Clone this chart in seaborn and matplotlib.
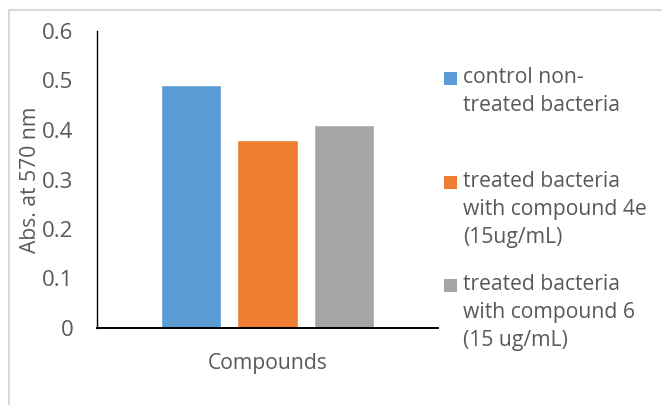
import matplotlib
matplotlib.use("Agg")
import matplotlib.pyplot as plt
from matplotlib.patches import Rectangle
from matplotlib.lines import Line2D
import seaborn as sns
import pandas as pd

# Data
series = [
    "control non-\ntreated bacteria",
    "treated bacteria\nwith compound 4e\n(15ug/mL)",
    "treated bacteria\nwith compound 6\n(15 ug/mL)",
]
absorbance = [0.49, 0.38, 0.41]
colors = ["#5B9BD5", "#ED7D31", "#A5A5A5"]
y_ticks = [0, 0.1, 0.2, 0.3, 0.4, 0.5, 0.6]
y_tick_labels = ["0", "0.1", "0.2", "0.3", "0.4", "0.5", "0.6"]

df = pd.DataFrame({"Compounds": [""] * len(series), "Series": series, "Abs": absorbance})

sns.set_theme(style="white")
plt.rcParams["font.family"] = ["Open Sans", "DejaVu Sans"]
text_color = "#595959"
fs = 15.2
fs_tick = 16

W, H = 662, 405
fig = plt.figure(figsize=(W / 100, H / 100), dpi=100)
ax = fig.add_axes([97 / W, (H - 328) / H, 341 / W, 297 / H])

sns.barplot(data=df, x="Compounds", y="Abs", hue="Series", hue_order=series,
            palette=colors, width=0.669, gap=0.21, legend=False, ax=ax,
            saturation=1)

ax.set_ylim(0, 0.6)
ax.set_xlim(-0.5, 0.5)
ax.set_yticks(y_ticks)
ax.set_yticklabels(y_tick_labels, color=text_color, fontsize=fs_tick)
ax.set_xticks([])
ax.tick_params(axis="y", length=0, pad=17)
ax.set_ylabel("Abs. at 570 nm", color=text_color, fontsize=fs, labelpad=0)
ax.yaxis.set_label_coords(-(97 - 41) / 341, 0.5)
ax.set_xlabel("Compounds", color=text_color, fontsize=fs, labelpad=18)

for side in ["top", "right"]:
    ax.spines[side].set_visible(False)
for side in ["left", "bottom"]:
    ax.spines[side].set_color("black")
    ax.spines[side].set_linewidth(1.0)
ax.spines["bottom"].set_linewidth(1.4)

# Chart-area border (top and left edges)
border = "#d9d9d9"
fig.add_artist(Line2D([9 / W, 1], [1 - 10 / H, 1 - 10 / H], transform=fig.transFigure,
                      color=border, lw=1.5))
fig.add_artist(Line2D([9 / W, 9 / W], [0, 1 - 10 / H], transform=fig.transFigure,
                      color=border, lw=1.5))

# Legend entries
first_line_y = [78, 182, 285]
for label, col, yc in zip(series, colors, first_line_y):
    fig.add_artist(Rectangle((444 / W, 1 - (yc + 6.5) / H), 13 / W, 13 / H,
                             transform=fig.transFigure, facecolor=col, edgecolor="none"))
    fig.text(463 / W, 1 - (yc - 11) / H, label, ha="left", va="top",
             fontsize=fs, color=text_color, linespacing=1.45)

fig.savefig("out.png", dpi=100)
